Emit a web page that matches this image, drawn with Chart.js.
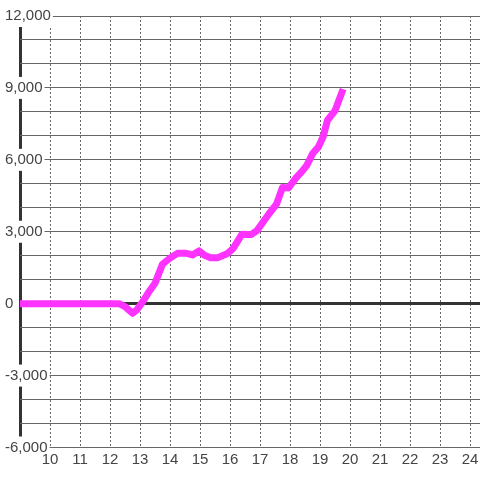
<!DOCTYPE html>
<html lang="en">
<head>
    <meta charset="UTF-8">
    <title>Line chart</title>
    <script src="https://cdn.jsdelivr.net/npm/chart.js"></script>
    <style>
        body { margin: 0; background: #fff; }
    </style>
</head>
<body>

<canvas id="lineChart" width="480" height="480"></canvas>

<script>
// hours (x) and values (y)
const hours = [9, 12.3, 12.5, 12.75, 12.9, 13.1, 13.3, 13.5, 13.75, 14.0, 14.25, 14.55, 14.75, 14.97,
    15.15, 15.35, 15.6, 15.9, 16.1, 16.4, 16.7, 16.9, 17.3, 17.55, 17.75, 17.95, 18.2, 18.4,
    18.55, 18.75, 18.95, 19.1, 19.25, 19.5, 19.77];
const values = [0, 0, -120, -400, -250, 100, 500, 850, 1650, 1900, 2100, 2100, 2030, 2200,
    2020, 1920, 1920, 2080, 2300, 2900, 2880, 3050, 3750, 4150, 4850, 4830, 5250, 5520,
    5750, 6250, 6550, 6950, 7650, 8050, 8950];
const xMin = 9, xMax = 24.333;
const yMin = -6000, yMax = 12000;
const yLabelStep = 3000;

const textFont = {family: 'Liberation Sans', size: 15};
const textColor = '#444';
const isAxisTick = (c, v) => !!(c.tick && c.tick.value === v);

const ctx = document.getElementById('lineChart').getContext('2d');
new Chart(ctx, {
    type: 'line',
    data: {
        datasets: [{
            data: hours.map((h, i) => ({x: h, y: values[i]})),
            borderColor: '#ff33ff',
            borderWidth: 7,
            borderJoinStyle: 'round',
            pointRadius: 0,
            tension: 0,
            fill: false
        }]
    },
    options: {
        responsive: false,
        animation: false,
        layout: {
            padding: {left: 20, top: 16, right: 0, bottom: 7.5}
        },
        scales: {
            x: {
                type: 'linear',
                min: xMin,
                max: xMax,
                grid: {
                    // the line at x = 9 doubles as the thick y axis
                    color: c => (isAxisTick(c, xMin) ? '#333' : '#666'),
                    lineWidth: c => (isAxisTick(c, xMin) ? 3 : 1),
                    drawTicks: false
                },
                border: {
                    color: '#666',
                    width: 1,
                    dash: c => (isAxisTick(c, xMin) ? [] : [2, 2])
                },
                ticks: {
                    stepSize: 1,
                    includeBounds: false,
                    // tall line box instead of padding keeps the plot flush right
                    padding: 0.5,
                    z: 1,
                    color: textColor,
                    font: {...textFont, lineHeight: 1.6},
                    maxRotation: 0,
                    autoSkip: false,
                    callback: v => (v === xMin ? '' : v)
                }
            },
            y: {
                min: yMin,
                max: yMax,
                grid: {
                    color: c => (isAxisTick(c, 0) ? '#333' : '#666'),
                    lineWidth: c => (isAxisTick(c, 0) ? 3 : 1),
                    drawTicks: false
                },
                border: {
                    display: false
                },
                ticks: {
                    stepSize: 1000,
                    autoSkip: false,
                    mirror: true,
                    // mirrored labels sit at left + 3 * padding
                    padding: -5,
                    color: textColor,
                    font: textFont,
                    showLabelBackdrop: c => c.tick.value % yLabelStep === 0,
                    backdropColor: '#fff',
                    backdropPadding: 2,
                    callback: v => (v % yLabelStep === 0 ? v.toLocaleString('en-US') : '')
                }
            }
        },
        plugins: {
            legend: {display: false},
            tooltip: {enabled: false}
        }
    }
});
</script>

</body>
</html>
